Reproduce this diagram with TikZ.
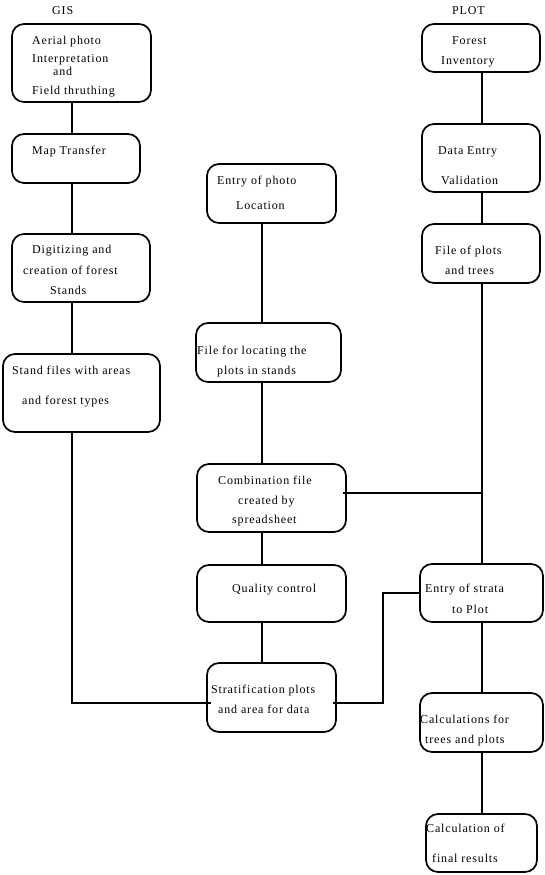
\documentclass[tikz,border=0pt]{standalone}
\usepackage{fontspec}
\setmainfont{Liberation Serif}[LetterSpace=7]
\usetikzlibrary{fit}
\begin{document}
\begin{tikzpicture}[x=1pt,y=-1pt,
  box/.style={draw,line width=1.7pt,rounded corners=12pt,inner sep=0pt},
  txt/.style={anchor=west,inner sep=0pt,yshift=-1.5pt,font=\fontsize{12}{14}\selectfont,text height=1.5ex,text depth=.25ex},
  con/.style={line width=1.7pt}]
\useasboundingbox (0,0) rectangle (545,875);
\fill[white] (0,0) rectangle (545,875);
\coordinate (colA) at (72,0);
\coordinate (colB) at (262,0);
\coordinate (colC) at (482,0);
% boxes
\node[box,fit={(12,24) (151,102)}] (aerial) {};
\node[box,fit={(12,134) (140,183)}] (map) {};
\node[box,fit={(12,234) (150,302)}] (digit) {};
\node[box,fit={(3,354) (160,432)}] (stand) {};
\node[box,fit={(422,24) (540,72)}] (forest) {};
\node[box,fit={(422,124) (540,192)}] (dataentry) {};
\node[box,fit={(422,224) (540,283)}] (fileplots) {};
\node[box,fit={(207,164) (336,223)}] (entryphoto) {};
\node[box,fit={(196,323) (341,382)}] (fileloc) {};
\node[box,fit={(197,464) (346,532)}] (comb) {};
\node[box,fit={(197,565) (346,622)}] (quality) {};
\node[box,fit={(207,663) (336,732)}] (strat) {};
\node[box,fit={(420,564) (543,622)}] (strata) {};
\node[box,fit={(420,693) (543,752)}] (calcs) {};
\node[box,fit={(426,814) (537,872)}] (final) {};
% texts
\node[txt] (tgis) at (52,10) {GIS};
\node[txt] (tplot) at (452,10) {PLOT};
\node[txt] (t1a) at (32,40) {Aerial photo};
\node[txt] (t1b) at (32,58.5) {Interpretation};
\node[txt] (t1c) at (53,71.5) {and};
\node[txt] (t1d) at (32,90) {Field thruthing};
\node[txt] (t2a) at (32,150) {Map Transfer};
\node[txt] (t3a) at (32,249) {Digitizing and};
\node[txt] (t3b) at (23,270) {creation of forest};
\node[txt] (t3c) at (50,290) {Stands};
\node[txt] (t4a) at (12,370) {Stand files with areas};
\node[txt] (t4b) at (22,400) {and forest types};
\node[txt] (t5a) at (452,40) {Forest};
\node[txt] (t5b) at (441,60) {Inventory};
\node[txt] (t6a) at (438,150) {Data Entry};
\node[txt] (t6b) at (441,180) {Validation};
\node[txt] (t7a) at (435,250) {File of plots};
\node[txt] (t7b) at (445,270) {and trees};
\node[txt] (t8a) at (217,180) {Entry of photo};
\node[txt] (t8b) at (236,205) {Location};
\node[txt] (t9a) at (197,350) {File for locating the};
\node[txt] (t9b) at (217,370) {plots in stands};
\node[txt] (t10a) at (218,480) {Combination file};
\node[txt] (t10b) at (238,500) {created by};
\node[txt] (t10c) at (232,519) {spreadsheet};
\node[txt] (t11a) at (232,588) {Quality control};
\node[txt] (t12a) at (211,689) {Stratification plots};
\node[txt] (t12b) at (218,709) {and area for data};
\node[txt] (t13a) at (425,588) {Entry of strata};
\node[txt] (t13b) at (452,609) {to Plot};
\node[txt] (t14a) at (420,719) {Calculations for};
\node[txt] (t14b) at (425,739) {trees and plots};
\node[txt] (t15a) at (426,828) {Calculation of};
\node[txt] (t15b) at (432,858) {final results};
% connectors
\draw[con] (aerial.south -| colA) -- (map.north -| colA);
\draw[con] (map.south -| colA) -- (digit.north -| colA);
\draw[con] (digit.south -| colA) -- (stand.north -| colA);
\draw[con] (stand.south -| colA) |- ([xshift=5pt,yshift=-5.5pt]strat.west);
\draw[con] (entryphoto.south -| colB) -- (fileloc.north -| colB);
\draw[con] (fileloc.south -| colB) -- (comb.north -| colB);
\draw[con] (comb.south -| colB) -- (quality.north -| colB);
\draw[con] (quality.south -| colB) -- (strat.north -| colB);
\draw[con] (forest.south -| colC) -- (dataentry.north -| colC);
\draw[con] (dataentry.south -| colC) -- (fileplots.north -| colC);
\draw[con] (fileplots.south -| colC) -- (strata.north -| colC);
\draw[con] ([xshift=-4pt,yshift=5pt]comb.east) -- ([yshift=5pt]comb.east -| colC);
\draw[con] ([xshift=-4pt,yshift=-5.5pt]strat.east) -- ++(50,0) |- (strata.west);
\draw[con] (strata.south -| colC) -- (calcs.north -| colC);
\draw[con] (calcs.south -| colC) -- (final.north -| colC);
\end{tikzpicture}
\end{document}
